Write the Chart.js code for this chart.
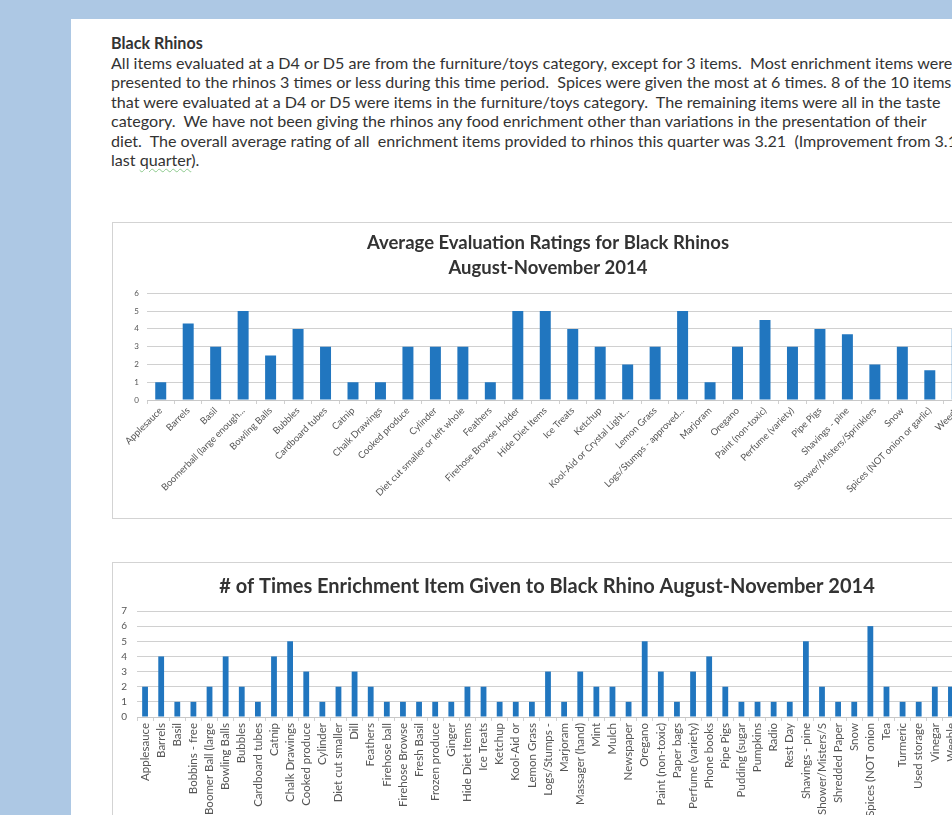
<!DOCTYPE html>
<html>
<head>
<meta charset="utf-8">
<script src="https://cdn.jsdelivr.net/npm/chart.js@4/dist/chart.umd.min.js"></script>
<style>
html, body { margin: 0; padding: 0; width: 952px; height: 815px; overflow: hidden; background: #adc8e4; }
#page { position: absolute; left: 71px; top: 19px; width: 1000px; height: 900px; background: #fff; }
#txt { position: absolute; left: 111px; top: 33px; font-family: Lato, sans-serif; font-size: 13px; line-height: 19.5px; color: #333; white-space: pre; }
#txt b { font-weight: bold; }
.sq { text-decoration: underline wavy #8cc98c; text-decoration-thickness: 1px; text-underline-offset: 2px; }
.box { position: absolute; left: 112px; border: 1px solid #d3d3d3; background: #fff; }
#box1 { top: 222px; width: 900px; height: 295px; }
#box2 { top: 562px; width: 900px; height: 400px; }
canvas { position: absolute; left: 0; }
</style>
</head>
<body>
<div id="page"></div>
<div id="txt"><b>Black Rhinos</b>
<span id="fitline">All items evaluated at a D4 or D5 are from the furniture/toys category, except for 3 items.  Most enrichment items were</span>
presented to the rhinos 3 times or less during this time period.  Spices were given the most at 6 times. 8 of the 10 items
that were evaluated at a D4 or D5 were items in the furniture/toys category.  The remaining items were all in the taste
category.  We have not been giving the rhinos any food enrichment other than variations in the presentation of their
diet.  The overall average rating of all  enrichment items provided to rhinos this quarter was 3.21  (Improvement from 3.1
last <span class="sq">quarter</span>).</div>
<div class="box" id="box1"><canvas id="c1" width="872" height="294" style="top:0"></canvas></div>
<div class="box" id="box2"><canvas id="c2" width="860" height="300" style="top:0"></canvas></div>
<script>
// chart 1: average ratings
var ratingItems = ['Applesauce', 'Barrels', 'Basil', 'Boomerball (large enough...', 'Bowling Balls', 'Bubbles',
    'Cardboard tubes', 'Catnip', 'Chalk Drawings', 'Cooked produce', 'Cylinder', 'Diet cut smaller or left whole',
    'Feathers', 'Firehose Browse Holder', 'Hide Diet Items', 'Ice Treats', 'Ketchup', 'Kool-Aid or Crystal Light...',
    'Lemon Grass', 'Logs/Stumps - approved...', 'Marjoram', 'Oregano', 'Paint (non-toxic)', 'Perfume (variety)',
    'Pipe Pigs', 'Shavings - pine', 'Shower/Misters/Sprinklers', 'Snow', 'Spices (NOT onion or garlic)', 'Weeds'];
var ratingValues = [1, 4.3, 3, 5, 2.5, 4, 3, 1, 1, 3, 3, 3, 1, 5, 5, 4, 3, 2, 3, 5, 1, 3, 4.5, 3, 4, 3.7, 2, 3, 1.67, 4];
var ratingTicks = [0, 1, 2, 3, 4, 5, 6];

// chart 2: times given
var givenItems = ['Applesauce', 'Barrels', 'Basil', 'Bobbins - free', 'Boomer Ball (large', 'Bowling Balls', 'Bubbles',
    'Cardboard tubes', 'Catnip', 'Chalk Drawings', 'Cooked produce', 'Cylinder', 'Diet cut smaller', 'Dill', 'Feathers',
    'Firehose ball', 'Firehose Browse', 'Fresh Basil', 'Frozen produce', 'Ginger', 'Hide Diet Items', 'Ice Treats',
    'Ketchup', 'Kool-Aid or', 'Lemon Grass', 'Logs/Stumps -', 'Marjoram', 'Massager (hand)', 'Mint', 'Mulch',
    'Newspaper', 'Oregano', 'Paint (non-toxic)', 'Paper bags', 'Perfume (variety)', 'Phone books', 'Pipe Pigs',
    'Pudding (sugar', 'Pumpkins', 'Radio', 'Rest Day', 'Shavings - pine', 'Shower/Misters/S', 'Shredded Paper', 'Snow',
    'Spices (NOT onion', 'Tea', 'Turmeric', 'Used storage', 'Vinegar', 'Weeble'];
var givenCounts = [2, 4, 1, 1, 2, 4, 2, 1, 4, 5, 3, 1, 2, 3, 2, 1, 1, 1, 1, 1, 2, 2, 1, 1, 1, 3, 1, 3, 2, 2,
    1, 5, 3, 1, 3, 4, 2, 1, 1, 1, 1, 5, 2, 1, 1, 6, 2, 1, 1, 2, 2];
var givenTicks = [0, 1, 2, 3, 4, 5, 6, 7];

var BAR = '#2176bf';
var GRID = '#d0d0d0';
var LABEL = '#555';

// fit the paragraph width to the scan
(function () {
    var w = document.getElementById('fitline').getBoundingClientRect().width;
    document.getElementById('txt').style.fontSize = (13 * 842 / w) + 'px';
})();

function setTicks(list) {
    return function (scale) { scale.ticks = list.map(function (v) { return { value: v }; }); };
}

// the scanned charts are wider than the page, so their titles sit a bit right of our canvas centre
var titleShift = {
    id: 'titleShift',
    afterLayout: function (chart, args, opts) {
        if (chart.titleBlock && opts.px) {
            chart.titleBlock.left += opts.px;
            chart.titleBlock.right += opts.px;
        }
    }
};

new Chart(document.getElementById('c1'), {
    type: 'bar',
    data: {
        labels: ratingItems,
        datasets: [{ data: ratingValues, backgroundColor: BAR, barPercentage: 0.4, categoryPercentage: 1 }]
    },
    plugins: [titleShift],
    options: {
        responsive: false,
        animation: false,
        layout: { padding: { top: 0, right: 14, left: 0, bottom: 0 } },
        plugins: {
            legend: { display: false },
            tooltip: { enabled: false },
            titleShift: { px: 6 },
            title: {
                display: true,
                text: ['Average Evaluation Ratings for Black Rhinos', 'August-November 2014'],
                color: '#333',
                font: { family: 'Lato', size: 18.5, weight: 'bold', lineHeight: 1.36 },
                padding: { top: 7, bottom: 13 }
            }
        },
        scales: {
            x: {
                ticks: { autoSkip: false, minRotation: 45, maxRotation: 45, color: LABEL, padding: 1,
                    font: { family: 'Lato', size: 9.5 } },
                grid: { drawOnChartArea: false, tickLength: 4, color: GRID },
                border: { color: '#c8c8c8' },
                afterFit: function (s) { s.height = 117; }
            },
            y: {
                min: 0, max: 6,
                afterBuildTicks: setTicks(ratingTicks),
                ticks: { color: LABEL, padding: 8, font: { family: 'Lato', size: 8 } },
                grid: { color: GRID, drawTicks: false },
                border: { display: false },
                afterFit: function (s) { s.width = 34; }
            }
        }
    }
});

new Chart(document.getElementById('c2'), {
    type: 'bar',
    data: {
        labels: givenItems,
        datasets: [{ data: givenCounts, backgroundColor: BAR, barPercentage: 0.36, categoryPercentage: 1 }]
    },
    plugins: [titleShift],
    options: {
        responsive: false,
        animation: false,
        layout: { padding: { top: 0, right: 14, left: 0, bottom: 0 } },
        plugins: {
            legend: { display: false },
            tooltip: { enabled: false },
            titleShift: { px: 11 },
            title: {
                display: true,
                text: '# of Times Enrichment Item Given to Black Rhino August-November 2014',
                color: '#333',
                font: { family: 'Lato', size: 20, weight: 'bold', lineHeight: 1.1 },
                padding: { top: 13, bottom: 13 }
            }
        },
        scales: {
            x: {
                ticks: { autoSkip: false, minRotation: 90, maxRotation: 90, color: LABEL, padding: 2,
                    font: { family: 'Lato', size: 11.5 } },
                grid: { drawOnChartArea: false, tickLength: 4, color: GRID },
                border: { color: '#c8c8c8' },
                afterFit: function (s) { s.height = 146; }
            },
            y: {
                min: 0, max: 7,
                afterBuildTicks: setTicks(givenTicks),
                ticks: { color: LABEL, padding: 10, font: { family: 'Lato', size: 10 } },
                grid: { color: GRID, drawTicks: false },
                border: { display: false },
                afterFit: function (s) { s.width = 24; }
            }
        }
    }
});
</script>
</body>
</html>
